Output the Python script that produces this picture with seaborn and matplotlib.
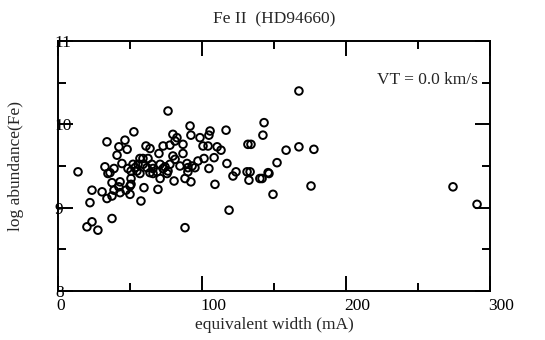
import numpy as np
import pandas as pd
import matplotlib
matplotlib.use("Agg")
import matplotlib.pyplot as plt
import matplotlib.transforms as mtransforms
from matplotlib.ticker import MultipleLocator
import seaborn as sns

# Data: Fe II lines in HD94660, equivalent width (mA) vs log abundance
ew = [
    13.9, 23.6, 22.2, 20.1, 23.6, 27.7, 37.5, 57.6, 88.2, 118.8,
    274.3, 291.0, 167.3, 76.4, 34.0, 52.7, 46.5, 42.3, 48.0, 41.0,
    44.4, 91.7, 79.8, 92.3, 98.6, 105.6, 104.8, 61.1, 63.9, 73.0,
    77.7, 81.3, 86.8, 86.8, 100.7, 104.2, 110.5, 113.2, 108.4, 70.1,
    56.9, 52.1, 50.7, 32.6, 34.7, 38.9, 89.6, 90.2, 93.1, 95.1,
    104.8, 109.0, 80.6, 88.2, 92.3, 90.2, 69.4, 59.7, 37.5, 43.1,
    30.6, 34.0, 37.5, 38.9, 43.1, 47.2, 50.7, 50.0, 50.7, 42.3,
    53.5, 54.8, 56.9, 59.0, 61.8, 63.9, 66.0, 70.9, 73.0, 76.4,
    77.7, 81.3, 79.8, 59.0, 62.5, 55.6, 66.0, 65.2, 75.7, 68.8,
    143.1, 142.3, 116.7, 117.3, 121.5, 123.6, 131.3, 133.4, 132.6, 131.9,
    141.7, 145.9, 149.3, 152.1, 158.4, 167.3, 177.7, 175.7, 48.6, 36.1,
    82.6, 134.0, 146.5, 74.3, 84.7, 97.2, 101.4, 70.9, 50.0, 140.2,
]
log_ab = [
    9.43, 9.21, 9.06, 8.77, 8.83, 8.73, 8.87, 9.08, 8.76, 8.97,
    9.25, 9.04, 10.40, 10.16, 9.79, 9.91, 9.81, 9.73, 9.70, 9.63,
    9.53, 9.98, 9.88, 9.87, 9.84, 9.92, 9.87, 9.74, 9.71, 9.74,
    9.75, 9.80, 9.76, 9.65, 9.74, 9.74, 9.73, 9.69, 9.60, 9.65,
    9.59, 9.52, 9.44, 9.49, 9.41, 9.47, 9.53, 9.48, 9.50, 9.48,
    9.47, 9.28, 9.32, 9.35, 9.31, 9.43, 9.22, 9.24, 9.30, 9.31,
    9.19, 9.11, 9.14, 9.21, 9.18, 9.21, 9.28, 9.16, 9.35, 9.25,
    9.48, 9.44, 9.41, 9.52, 9.48, 9.42, 9.41, 9.52, 9.47, 9.44,
    9.52, 9.58, 9.62, 9.59, 9.59, 9.52, 9.47, 9.52, 9.41, 9.43,
    10.02, 9.87, 9.93, 9.53, 9.38, 9.43, 9.43, 9.43, 9.33, 9.76,
    9.35, 9.42, 9.16, 9.54, 9.69, 9.73, 9.70, 9.26, 9.47, 9.42,
    9.84, 9.76, 9.41, 9.49, 9.50, 9.56, 9.59, 9.35, 9.26, 9.35,
]

df = pd.DataFrame({"ew": ew, "logab": log_ab})

sns.set_style("ticks")
plt.rcParams["font.family"] = ["Liberation Serif", "DejaVu Serif"]
fs = 12.5

fig = plt.figure(figsize=(5.45, 3.4), dpi=100)
ax = fig.add_axes([58 / 545, 1 - 291 / 340, 432 / 545, 250 / 340])

sns.scatterplot(data=df, x="ew", y="logab", ax=ax, marker="o", s=30,
                facecolors="none", edgecolors="black", linewidth=1.4)

ax.set_xlim(0, 300)
ax.set_ylim(8, 11)
ax.xaxis.set_major_locator(MultipleLocator(100))
ax.xaxis.set_minor_locator(MultipleLocator(50))
ax.yaxis.set_major_locator(MultipleLocator(1))
ax.yaxis.set_minor_locator(MultipleLocator(0.5))

for sp in ax.spines.values():
    sp.set_visible(True)
    sp.set_linewidth(1.4)
    sp.set_color("black")

ax.tick_params(which="both", direction="in", top=True, right=True,
               color="black", width=1.4, labelsize=fs, labelcolor="black")
ax.tick_params(which="major", length=10.5)
ax.tick_params(which="minor", length=5.5)
ax.tick_params(axis="y", which="major", pad=2.2)
ax.tick_params(axis="x", which="major", pad=5)

ax.set_xlabel("")
ax.set_ylabel("")

# labels sit left-aligned on the ticks, overlapping the frame
offset = mtransforms.ScaledTranslation(-1 / 72, 0, fig.dpi_scale_trans)
for lab in ax.get_xticklabels():
    lab.set_horizontalalignment("left")
    lab.set_transform(lab.get_transform() + offset)
plt.setp(ax.get_yticklabels(), ha="left")

ax.text(291.5, 10.53, "VT = 0.0 km/s", ha="right", va="center", fontsize=fs)

fig.text(274 / 545, 1 - 19 / 340, "Fe II  (HD94660)", ha="center", va="center", fontsize=fs)
fig.text(274 / 545, 1 - 325 / 340, "equivalent width (mA)", ha="center", va="center", fontsize=fs)
fig.text(16 / 545, 1 - 166 / 340, "log abundance(Fe)", ha="center", va="center",
         rotation=90, fontsize=fs)

fig.savefig("out.png", dpi=100)
